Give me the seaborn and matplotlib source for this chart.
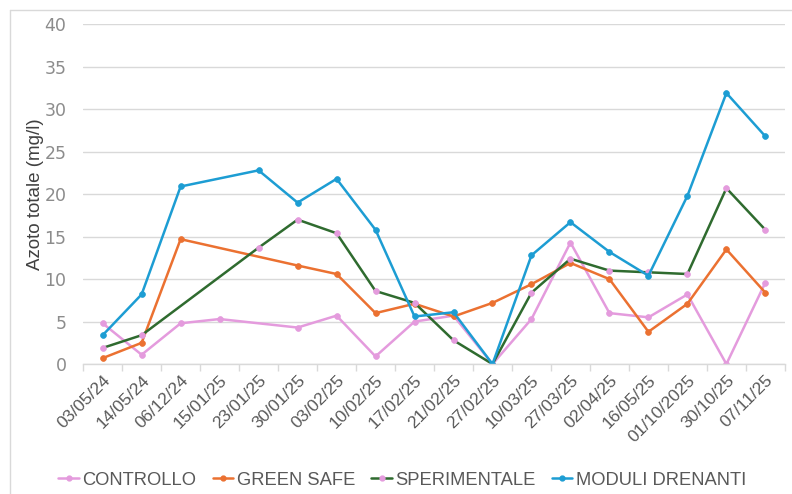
import numpy as np
import pandas as pd
import matplotlib
matplotlib.use("Agg")
import matplotlib.pyplot as plt
from matplotlib.lines import Line2D
import seaborn as sns

dates = ["03/05/24", "14/05/24", "06/12/24", "15/01/25", "23/01/25", "30/01/25",
         "03/02/25", "10/02/25", "17/02/25", "21/02/25", "27/02/25", "10/03/25",
         "27/03/25", "02/04/25", "16/05/25", "01/10/2025", "30/10/25", "07/11/25"]

nan = np.nan
controllo = [4.8, 1.1, 4.8, 5.3, nan, 4.3, 5.7, 0.9, 5.0, 5.7, 0.0, 5.3,
             14.3, 6.0, 5.5, 8.2, 0.0, 9.6]
green_safe = [0.7, 2.5, 14.7, nan, nan, 11.6, 10.6, 6.0, 7.1, 5.6, 7.2, 9.4,
              11.9, 10.0, 3.8, 7.1, 13.5, 8.4]
sperimentale = [1.9, 3.4, nan, nan, 13.7, 17.0, 15.4, 8.6, 7.2, 2.8, 0.0, 8.4,
                12.4, 11.0, 10.8, 10.6, 20.7, 15.8]
moduli = [3.4, 8.2, 20.9, nan, 22.8, 19.0, 21.8, 15.8, 5.6, 6.1, 0.0, 12.8,
          16.7, 13.2, 10.4, 19.8, 31.9, 26.8]

series_names = ["CONTROLLO", "GREEN SAFE", "SPERIMENTALE", "MODULI DRENANTI"]
series_vals = [controllo, green_safe, sperimentale, moduli]
line_colors = ["#E49BDD", "#EB7131", "#2F6B2F", "#1D9DD3"]
marker_colors = ["#E49BDD", "#EB7131", "#E49BDD", "#1D9DD3"]

sns.set_theme(style="white")
plt.rcParams["font.family"] = ["Liberation Sans", "DejaVu Sans"]

fig = plt.figure(figsize=(7.92, 4.94), dpi=100)
ax = fig.add_axes([0.105, 0.263, 0.886, 0.688])

handles = []
for name, vals, lc, mc in zip(series_names, series_vals, line_colors, marker_colors):
    df = pd.DataFrame({"x": np.arange(len(dates)), "y": vals}).dropna()
    sns.lineplot(data=df, x="x", y="y", ax=ax, color=lc, linewidth=1.8,
                 marker="o", markersize=4.2, markerfacecolor=mc,
                 markeredgecolor=mc, markeredgewidth=0.5, sort=False)
    handles.append(Line2D([0], [0], color=lc, linewidth=1.8, marker="o",
                          markersize=3.5, markerfacecolor=mc, markeredgecolor=mc))

ax.set_xlim(-0.5, len(dates) - 0.5)
ax.set_ylim(0, 40)
ax.set_yticks(np.arange(0, 41, 5))
ax.set_xticks(np.arange(len(dates)))
ax.set_xticklabels(dates, rotation=45, ha="right", rotation_mode="anchor",
                   fontsize=12.5, color="#595959")
ax.set_xticks(np.arange(len(dates) + 1) - 0.5, minor=True)
ax.tick_params(axis="x", which="major", length=0, pad=6)
ax.tick_params(axis="x", which="minor", length=5, color="#D9D9D9", width=1,
               direction="out", bottom=True)
ax.tick_params(axis="y", length=0, labelsize=12.5, labelcolor="#8C8C8C", pad=12)
for lab in ax.get_yticklabels():
    lab.set_fontfamily(["DejaVu Sans"])

ax.grid(axis="y", color="#D9D9D9", linewidth=1)
ax.set_axisbelow(True)
for s in ["top", "right", "left"]:
    ax.spines[s].set_visible(False)
ax.spines["bottom"].set_color("#D9D9D9")
ax.spines["bottom"].set_linewidth(1)

ax.set_xlabel("")
ax.set_ylabel("Azoto totale (mg/l)", fontsize=13.5, color="#404040", labelpad=0)

fig.legend(handles, series_names, loc="center", bbox_to_anchor=(0.508, 0.028),
           ncol=4, frameon=False, fontsize=13.2, handlelength=1.1,
           handletextpad=0.2, columnspacing=0.9, labelcolor="#595959")

# figure border
fig.add_artist(Line2D([10 / 792, 10 / 792], [0, 1 - 10 / 494], color="#D9D9D9",
                      linewidth=1, transform=fig.transFigure))
fig.add_artist(Line2D([10 / 792, 1], [1 - 10 / 494, 1 - 10 / 494], color="#D9D9D9",
                      linewidth=1, transform=fig.transFigure))

fig.savefig("out.png", dpi=100)
